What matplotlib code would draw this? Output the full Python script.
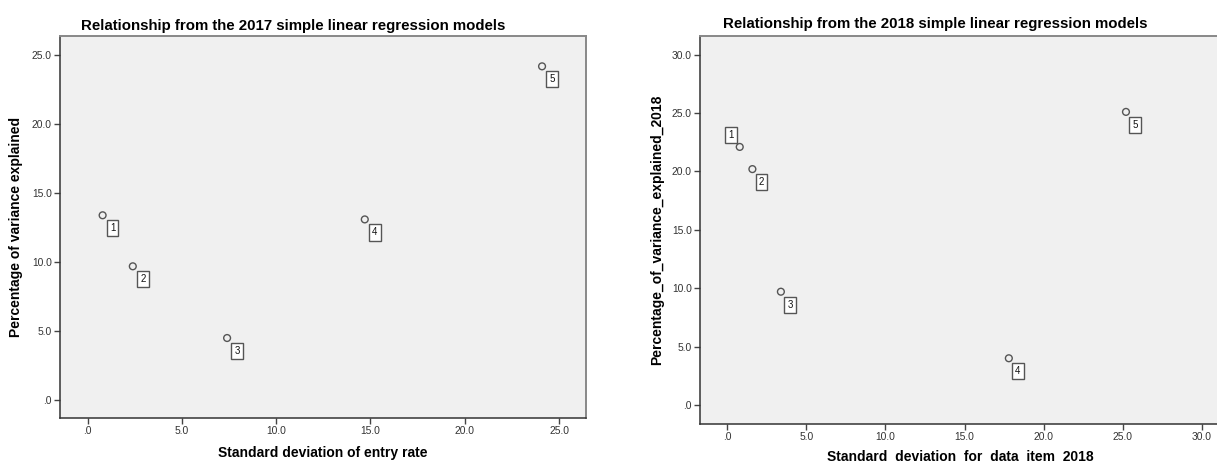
import matplotlib
matplotlib.use("Agg")
import matplotlib.pyplot as plt

# ---- data ----
labels = ["1", "2", "3", "4", "5"]
sd_2017 = [0.8, 2.4, 7.4, 14.7, 24.1]
pve_2017 = [13.4, 9.7, 4.5, 13.1, 24.2]
sd_2018 = [0.8, 1.6, 3.4, 17.8, 25.2]
pve_2018 = [22.1, 20.2, 9.7, 4.0, 25.1]

xticks_2017 = [0, 5, 10, 15, 20, 25]
xtick_labels_2017 = [".0", "5.0", "10.0", "15.0", "20.0", "25.0"]
yticks_2017 = [0, 5, 10, 15, 20, 25]
ytick_labels_2017 = [".0", "5.0", "10.0", "15.0", "20.0", "25.0"]
xticks_2018 = [0, 5, 10, 15, 20, 25, 30]
xtick_labels_2018 = [".0", "5.0", "10.0", "15.0", "20.0", "25.0", "30.0"]
yticks_2018 = [0, 5, 10, 15, 20, 25, 30]
ytick_labels_2018 = [".0", "5.0", "10.0", "15.0", "20.0", "25.0", "30.0"]

# label offsets in pixels (dx, dy)
offsets_2017 = [(10, -13)] * 5
offsets_2018 = [(-9, 12), (9, -13), (9, -13), (9, -13), (9, -13)]

plt.rcParams['font.family'] = ['Liberation Sans', 'DejaVu Sans']

W, H = 1217, 466
fig = plt.figure(figsize=(W / 100, H / 100), dpi=100)
fig.patch.set_facecolor("white")


def px_axes(x0, y0, x1, y1):
    return fig.add_axes([x0 / W, 1 - y1 / H, (x1 - x0) / W, (y1 - y0) / H])


def style(ax, xt, xtl, yt, ytl, xlim, ylim):
    ax.set_facecolor("#f0f0f0")
    ax.set_xlim(*xlim)
    ax.set_ylim(*ylim)
    ax.set_xticks(xt)
    ax.set_xticklabels(xtl)
    ax.set_yticks(yt)
    ax.set_yticklabels(ytl)
    ax.tick_params(direction="out", length=4, width=1, color="#444444",
                   labelsize=7.4, labelcolor="#333333", pad=2)
    for s in ("left", "bottom"):
        ax.spines[s].set_color("#333333")
        ax.spines[s].set_linewidth(1.1)
    for s in ("top", "right"):
        ax.spines[s].set_color("#888888")
        ax.spines[s].set_linewidth(1.4)


def draw(ax, xs, ys, offs):
    ax.scatter(xs, ys, s=24, facecolors="none", edgecolors="#555555",
               linewidths=1.0, zorder=3)
    for x, y, lab, (dx, dy) in zip(xs, ys, labels, offs):
        ax.annotate(lab, (x, y), xytext=(dx, dy), textcoords="offset pixels",
                    ha="center", va="center", fontsize=7, color="#111111",
                    bbox=dict(boxstyle="square,pad=0.32", fc="white",
                              ec="#555555", lw=1.0), zorder=4)


def labels_xy(ax, xlabel, ylabel, xl_y, yl_x):
    ax.set_xlabel(xlabel, fontsize=10, fontweight="bold")
    ax.set_ylabel(ylabel, fontsize=10, fontweight="bold")
    ax.xaxis.label.set_va("center")
    ax.yaxis.label.set_va("center")
    ax.xaxis.set_label_coords(0.5, xl_y)
    ax.yaxis.set_label_coords(yl_x, 0.5)


ax1 = px_axes(60, 36, 586, 418)
style(ax1, xticks_2017, xtick_labels_2017, yticks_2017, ytick_labels_2017,
      (-1.46, 26.43), (-1.3, 26.4))
draw(ax1, sd_2017, pve_2017, offsets_2017)
labels_xy(ax1, "Standard deviation of entry rate",
          "Percentage of variance explained",
          (418 - 453) / 382, (16 - 60) / 526)
fig.text(293 / W, 1 - 26 / H, "Relationship from the 2017 simple linear regression models",
         ha="center", va="center", fontsize=10.8, fontweight="bold")

ax2 = px_axes(700, 36, 1220, 424)
style(ax2, xticks_2018, xtick_labels_2018, yticks_2018, ytick_labels_2018,
      (-1.71, 31.14), (-1.63, 31.6))
draw(ax2, sd_2018, pve_2018, offsets_2018)
labels_xy(ax2, "Standard  deviation  for  data  item  2018",
          "Percentage_of_variance_explained_2018",
          (424 - 457) / 388, (657 - 700) / 520)
fig.text(935 / W, 1 - 24 / H, "Relationship from the 2018 simple linear regression models",
         ha="center", va="center", fontsize=10.8, fontweight="bold")

fig.savefig("out.png", dpi=100)
